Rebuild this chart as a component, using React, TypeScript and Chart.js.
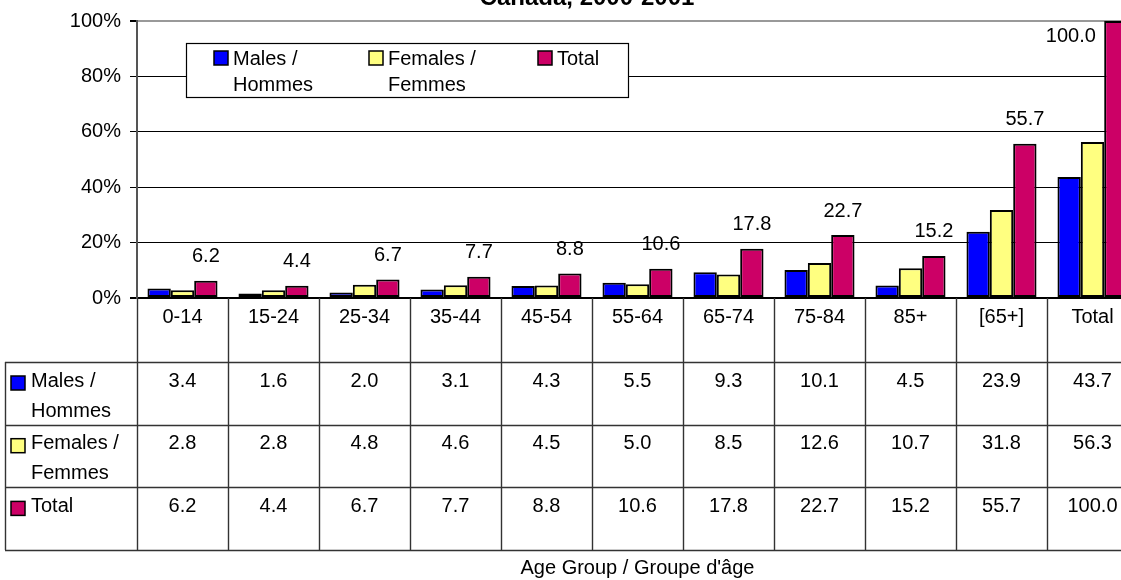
import React, { useEffect, useRef } from "react";
import { Chart, registerables } from "chart.js";

Chart.register(...registerables);

const categories = ["0-14", "15-24", "25-34", "35-44", "45-54", "55-64", "65-74", "75-84", "85+", "[65+]", "Total"];
const males = [3.4, 1.6, 2.0, 3.1, 4.3, 5.5, 9.3, 10.1, 4.5, 23.9, 43.7];
const females = [2.8, 2.8, 4.8, 4.6, 4.5, 5.0, 8.5, 12.6, 10.7, 31.8, 56.3];
const totals = [6.2, 4.4, 6.7, 7.7, 8.8, 10.6, 17.8, 22.7, 15.2, 55.7, 100.0];
const seriesLabels = [["Males /", "Hommes"], ["Females /", "Femmes"], ["Total"]];
const seriesColors = ["#0000FF", "#FFFF80", "#CC0066"];
const seriesValues = [males, females, totals];
const yTickStep = 20;
const yMax = 100;
const chartTitle = "Canada, 2000-2001";
const xTitle = "Age Group / Groupe d'âge";

const FONT = "'Liberation Sans', Arial, Helvetica, sans-serif";
const TEXT_SIZE = 20;

const overlay = {
  id: "overlay",
  afterDatasetsDraw(chart: any) {
    const ctx: CanvasRenderingContext2D = chart.ctx;
    const area = chart.chartArea;
    ctx.save();
    ctx.fillStyle = "#000";

    // title (partly cut off at top)
    ctx.font = `bold 24px ${FONT}`;
    ctx.textAlign = "center";
    ctx.textBaseline = "alphabetic";
    ctx.fillText(chartTitle, 587, 5);

    // data labels above Total bars
    ctx.font = `${TEXT_SIZE}px ${FONT}`;
    ctx.textBaseline = "middle";
    const meta = chart.getDatasetMeta(2);
    meta.data.forEach((bar: any, i: number) => {
      let x = bar.x;
      let y = bar.y - 24;
      if (y < area.top + 8) {
        x = bar.x - 45;
        y = area.top + 15;
      }
      ctx.fillText(totals[i].toFixed(1), x, y);
    });

    // legend box
    const lx = 186, ly = 43, lw = 442, lh = 54;
    ctx.fillStyle = "#fff";
    ctx.fillRect(lx, ly, lw, lh);
    ctx.strokeStyle = "#000";
    ctx.lineWidth = 1.2;
    ctx.strokeRect(lx + 0.5, ly + 0.5, lw, lh);
    const itemX = [214, 369, 538];
    ctx.textAlign = "left";
    seriesLabels.forEach((lines, i) => {
      ctx.fillStyle = seriesColors[i];
      ctx.fillRect(itemX[i], 51, 14, 14);
      ctx.strokeStyle = "#000";
      ctx.lineWidth = 1.5;
      ctx.strokeRect(itemX[i], 51, 14, 14);
      ctx.fillStyle = "#000";
      lines.forEach((t, k) => ctx.fillText(t, itemX[i] + 19, 59 + k * 26));
    });

    // data table
    const n = categories.length;
    const cw = (area.right - area.left) / n;
    const headBottom = 362;
    const rowH = 62.7;
    const tableBottom = headBottom + rowH * 3;
    ctx.strokeStyle = "#333";
    ctx.lineWidth = 1.4;
    ctx.beginPath();
    for (let k = 0; k <= n; k++) {
      const x = Math.round(area.left + k * cw) + 0.5;
      ctx.moveTo(x, area.bottom);
      ctx.lineTo(x, tableBottom);
    }
    for (let r = 0; r <= 3; r++) {
      const y = Math.round(headBottom + r * rowH) + 0.5;
      ctx.moveTo(5, y);
      ctx.lineTo(area.right, y);
    }
    ctx.moveTo(5.5, headBottom);
    ctx.lineTo(5.5, tableBottom);
    ctx.stroke();

    ctx.fillStyle = "#000";
    ctx.textAlign = "center";
    categories.forEach((c, i) => {
      const cx = area.left + (i + 0.5) * cw;
      ctx.fillText(c, cx, 317);
      seriesValues.forEach((vals, r) => {
        ctx.fillText(vals[i].toFixed(1), cx, headBottom + r * rowH + 19);
      });
    });
    seriesLabels.forEach((lines, r) => {
      const top = headBottom + r * rowH;
      ctx.fillStyle = seriesColors[r];
      ctx.fillRect(11, top + 14, 14, 14);
      ctx.strokeStyle = "#000";
      ctx.lineWidth = 1.5;
      ctx.strokeRect(11, top + 14, 14, 14);
      ctx.fillStyle = "#000";
      ctx.textAlign = "left";
      lines.forEach((t, k) => ctx.fillText(t, 31, top + 19 + k * 30));
    });

    // x axis title
    ctx.textAlign = "center";
    ctx.fillText(xTitle, (area.left + area.right) / 2, 568);
    ctx.restore();
  },
};

export default function App() {
  const ref = useRef<HTMLCanvasElement | null>(null);
  useEffect(() => {
    document.body.style.margin = "0";
    const canvas = ref.current;
    if (!canvas) return;
    const chart = new Chart(canvas, {
      type: "bar",
      data: {
        labels: categories,
        datasets: seriesValues.map((vals, i) => ({
          label: seriesLabels[i].join(" "),
          data: vals,
          backgroundColor: seriesColors[i],
          borderColor: "#000",
          borderWidth: 2,
          borderSkipped: false,
          barPercentage: 1,
          categoryPercentage: 0.77,
        })),
      },
      options: {
        responsive: false,
        animation: false,
        devicePixelRatio: 1,
        layout: { padding: { top: 17, right: 2, bottom: 282, left: 0 } },
        plugins: { legend: { display: false }, tooltip: { enabled: false }, title: { display: false } },
        scales: {
          x: { display: false, grid: { display: false } },
          y: {
            min: 0,
            max: yMax,
            ticks: {
              stepSize: yTickStep,
              callback: (v: any) => v + "%",
              font: { size: TEXT_SIZE, family: FONT },
              color: "#000",
              padding: 9,
            },
            grid: {
              color: (c: any) => (c.tick && c.tick.value === yMax ? "#999" : "#000"),
              lineWidth: (c: any) => (c.tick && (c.tick.value === yMax || c.tick.value === 0) ? 2 : 1),
              tickLength: 7,
              tickColor: "#000",
            },
            border: { color: "#555", width: 2 },
            afterFit: (s: any) => {
              s.width = 137;
            },
          },
        },
      },
      plugins: [overlay],
    });
    return () => chart.destroy();
  }, []);
  return (
    <div style={{ width: 1121, height: 580, overflow: "hidden", position: "relative", background: "#fff" }}>
      <canvas ref={ref} width={1140} height={580} style={{ display: "block", width: 1140, height: 580 }} />
    </div>
  );
}
